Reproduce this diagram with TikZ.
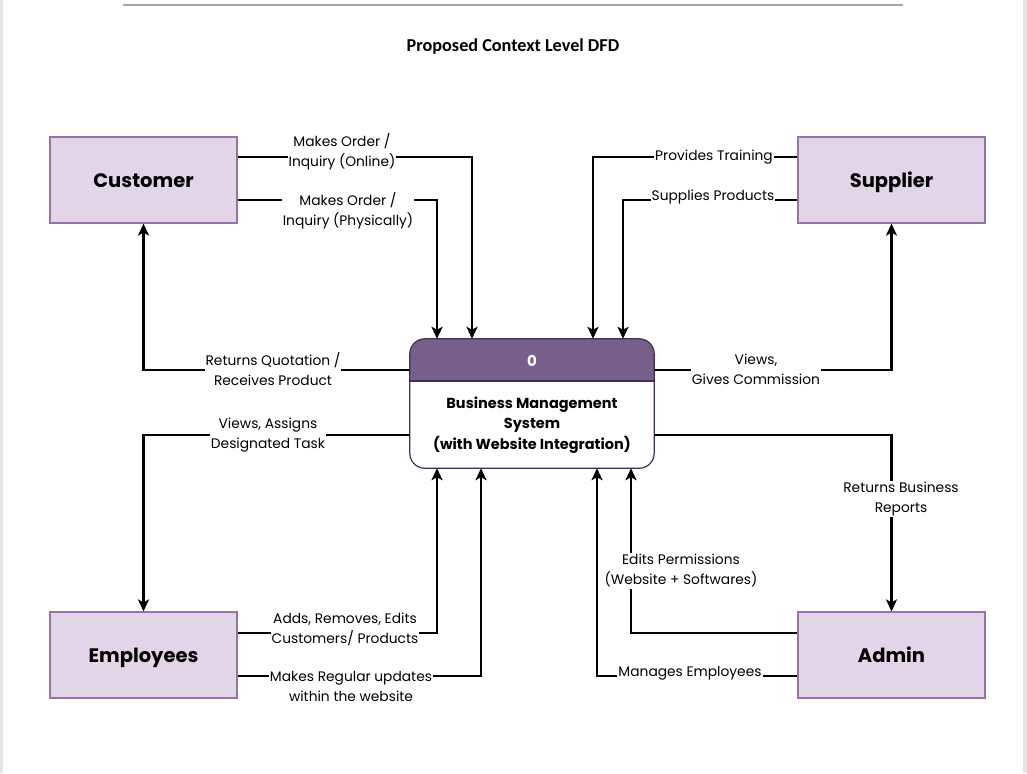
\documentclass[tikz,border=0pt]{standalone}
\usepackage{fontspec}
\setmainfont{Poppins}
\newfontfamily\titlefont{Carlito}
\usetikzlibrary{arrows.meta}
\definecolor{entfill}{HTML}{E1D5E7}
\definecolor{entdraw}{HTML}{9673A6}
\definecolor{hdrfill}{HTML}{76608A}
\definecolor{hdrdraw}{HTML}{432D57}
\definecolor{pagegray}{HTML}{E4E4E4}
\tikzset{
  ent/.style={draw=entdraw, fill=entfill, line width=1.2pt, minimum width=187pt, minimum height=86pt, inner sep=0pt,
    text height=16pt, text depth=1pt, font=\fontsize{19.5}{22}\selectfont\bfseries},
  lbl/.style={fill=white, inner sep=1pt, align=center, font=\fontsize{13.8}{20}\selectfont},
  flow/.style={line width=2.4pt, -{Stealth[length=12pt,width=11pt,inset=3pt]}},
}
\begin{document}
\begin{tikzpicture}[x=1pt,y=-1pt]
\useasboundingbox (0,0) rectangle (1027,773);
\fill[white] (0,0) rectangle (1027,773);
\fill[pagegray] (0,0) rectangle (3,773);
\fill[pagegray] (1023,0) rectangle (1027,773);
\draw[gray!70, line width=2pt] (123,5) -- (903,5);
\node[font=\titlefont\fontsize{18.2}{20}\selectfont\bfseries] (title) at (513,47) {Proposed Context Level DFD};

% entities
\node[ent] (C) at (143.5,180) {Customer};
\node[ent] (S) at (891.5,180) {Supplier};
\node[ent] (E) at (143.5,655) {Employees};
\node[ent] (A) at (891.5,655) {Admin};

% process
\node[minimum width=244pt, minimum height=129pt, inner sep=0pt] (P) at (532,403.5) {};
\begin{scope}
\clip (P.north west) rectangle (654,381);
\fill[hdrfill, rounded corners=15pt] (P.north west) rectangle (P.south east);
\end{scope}
\draw[hdrdraw, line width=1.2pt] (P.west |- 0,381) -- (P.east |- 0,381);
\draw[hdrdraw, line width=1.2pt, rounded corners=15pt] (P.north west) rectangle (P.south east);
\node[text=white, font=\fontsize{15}{16}\selectfont\bfseries] (pid) at (532,361) {0};
\node[align=center, font=\fontsize{14.5}{20.5}\selectfont\bfseries] (pname) at (532,425) {Business Management\\System\\(with Website Integration)};

% flows: customer
\draw[flow] (C.east |- 0,157) -| (P.north -| 472,0);
\draw[flow] (C.east |- 0,200) -| (P.north -| 437,0);
\draw[flow] (P.west |- 0,370) -| (C.south);
% employees
\draw[flow] (P.west |- 0,435) -| (E.north);
\draw[flow] (E.east |- 0,633) -| (P.south -| 437,0);
\draw[flow] (E.east |- 0,676) -| (P.south -| 481,0);
% supplier
\draw[flow] (S.west |- 0,157) -| (P.north -| 593,0);
\draw[flow] (S.west |- 0,200) -| (P.north -| 623,0);
\draw[flow] (P.east |- 0,370) -| (S.south);
% admin
\draw[flow] (P.east |- 0,435) -| (A.north);
\draw[flow] (A.west |- 0,633) -| (P.south -| 631,0);
\draw[flow] (A.west |- 0,676) -| (P.south -| 597,0);

% labels
\node[lbl] (l1) at (342,152) {Makes Order /\\Inquiry (Online)};
\node[lbl] (l2) at (348,211) {Makes Order /\\Inquiry (Physically)};
\node[lbl] (l3) at (273,369) {Returns Quotation /\\Receives Product};
\node[lbl] (l4) at (268,435) {Views, Assigns\\Designated Task};
\node[lbl] (l5) at (345,629) {Adds, Removes, Edits\\Customers/ Products};
\node[lbl] (l6) at (351,686) {Makes Regular updates\\within the website};
\node[lbl] (l7) at (714,157) {Provides Training};
\node[lbl] (l8) at (713,197) {Supplies Products};
\node[lbl] (l9) at (756,369) {Views,\\Gives Commission};
\node[lbl] (l10) at (901,499) {Returns Business\\Reports};
\node[lbl] (l11) at (681,571) {Edits Permissions\\(Website + Softwares)};
\node[lbl] (l12) at (690,673) {Manages Employees};
\end{tikzpicture}
\end{document}
